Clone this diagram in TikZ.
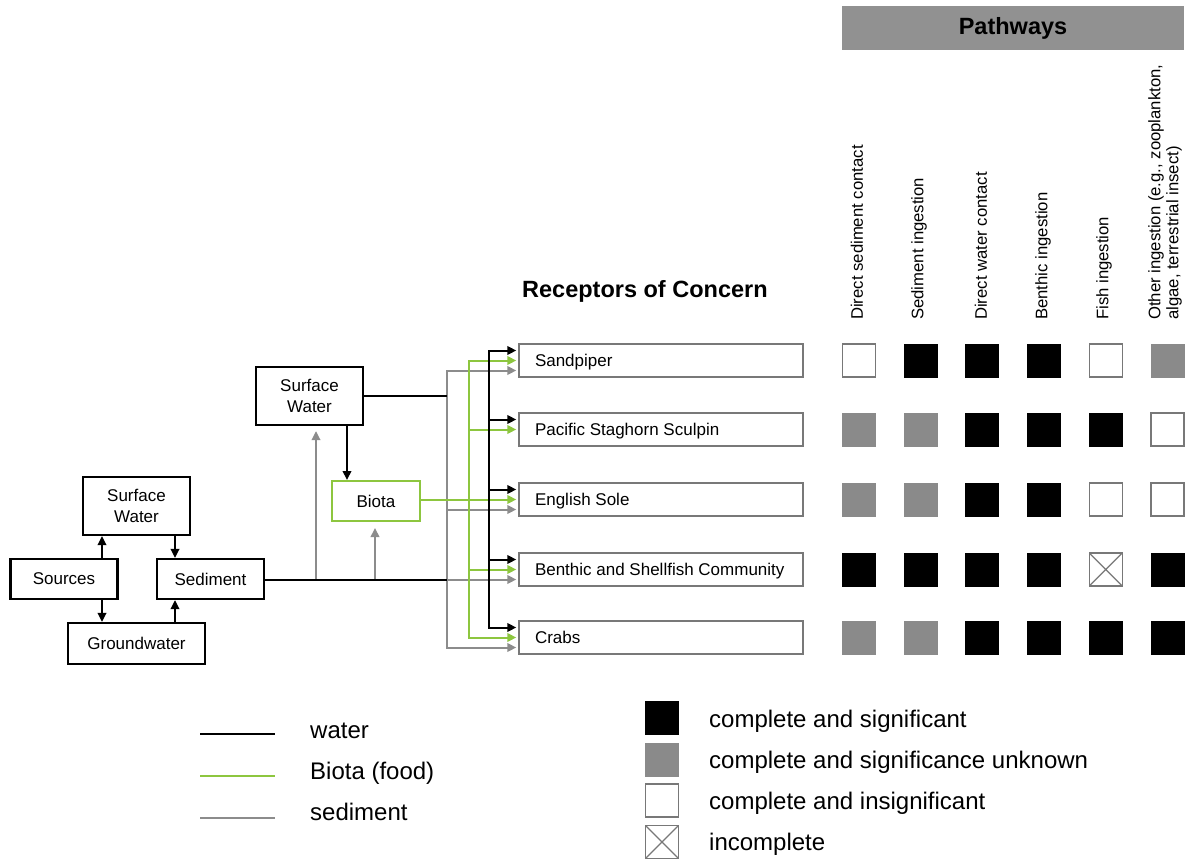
\documentclass[tikz,border=0pt]{standalone}
\usepackage{fontspec}
\setmainfont{Liberation Sans}
\usetikzlibrary{arrows.meta,calc}
\definecolor{food}{RGB}{141,198,63}
\definecolor{sedgray}{RGB}{140,140,140}
\definecolor{boxgray}{RGB}{120,120,120}
\definecolor{hdrgray}{RGB}{145,145,145}
\definecolor{sqgray}{RGB}{138,138,138}
\newcommand{\rlab}[1]{\makebox[252pt][l]{#1}}
\begin{document}
\begin{tikzpicture}[x=1pt,y=-1pt,
  fs/.style={font=\fontsize{17}{21}\selectfont},
  netbox/.style={draw=black, line width=2.2pt, align=center, inner sep=0pt, fs},
  rbox/.style={draw=boxgray, line width=1.4pt, minimum width=284pt, minimum height=33pt, text height=12.5pt, text depth=0pt, inner xsep=16pt, inner ysep=0pt, fs},
  wline/.style={draw=black, line width=2pt},
  fline/.style={draw=food, line width=2pt},
  sline/.style={draw=sedgray, line width=2pt},
  arr/.style={-{Triangle[length=9pt,width=8.5pt]}},
  barr/.style={{Triangle[length=9pt,width=8.5pt]}-{Triangle[length=9pt,width=8.5pt]}},
  sq/.style={minimum width=33pt, minimum height=33pt, inner sep=0pt},
  sqB/.style={fill=black, draw=black, line width=1pt},
  sqG/.style={fill=sqgray, draw=sqgray, line width=1pt},
  sqW/.style={fill=white, draw=boxgray, line width=1.4pt},
  sqX/.style={fill=white, draw=boxgray, line width=1.4pt,
    path picture={\draw[boxgray, line width=1.2pt]
      (path picture bounding box.north west) -- (path picture bounding box.south east)
      (path picture bounding box.north east) -- (path picture bounding box.south west);}},
  collab/.style={rotate=90, anchor=west, inner sep=0pt, align=left, font=\fontsize{16.7}{18}\selectfont},
  legtext/.style={anchor=base west, inner sep=0pt, font=\fontsize{24}{28}\selectfont}
]
\useasboundingbox (0,0) rectangle (1192,861);

% header
\node[fill=hdrgray, minimum width=342pt, minimum height=44pt, inner sep=0pt,
  font=\bfseries\fontsize{23.5}{28}\selectfont] (pw) at (1013,28) {Pathways};
\node[anchor=base west, inner sep=0pt, font=\bfseries\fontsize{23.5}{28}\selectfont] (roc) at (522,298) {Receptors of Concern};

% column labels
\node[collab] (p1) at (857,320) {Direct sediment contact};
\node[collab] (p2) at (919,320) {Sediment ingestion};
\node[collab] (p3) at (981,320) {Direct water contact};
\node[collab] (p4) at (1043,320) {Benthic ingestion};
\node[collab] (p5) at (1104,320) {Fish ingestion};
\node[collab] (p6) at (1165,320) {Other ingestion (e.g., zooplankton,\\algae, terrestrial insect)};

% receptors
\node[rbox] (r1) at (661,360.5) {\rlab{Sandpiper}};
\node[rbox] (r2) at (661,429.5) {\rlab{Pacific Staghorn Sculpin}};
\node[rbox] (r3) at (661,499.5) {\rlab{English Sole}};
\node[rbox] (r4) at (661,569.5) {\rlab{Benthic and Shellfish Community}};
\node[rbox] (r5) at (661,637.5) {\rlab{Crabs}};

% squares
\foreach \row/\yy/\types in {1/360.5/{W,B,B,B,W,G}, 2/429.5/{G,G,B,B,B,W}, 3/499.5/{G,G,B,B,W,W}, 4/569.5/{B,B,B,B,X,B}, 5/637.5/{G,G,B,B,B,B}} {
  \foreach \t [count=\c] in \types {
    \pgfmathsetmacro\xx{797.3+61.7*\c}
    \node[sq, sq\t] (s\row\c) at (\xx,\yy) {};
  }
}

% left network
\node[netbox, minimum width=107pt, minimum height=40pt] (sr) at (64,579) {Sources};
\node[netbox, minimum width=107pt, minimum height=58pt] (sw1) at (136.5,506) {Surface\\Water};
\node[netbox, minimum width=107pt, minimum height=40pt] (sed) at (210.5,579) {Sediment};
\node[netbox, minimum width=137pt, minimum height=41pt] (gw) at (136.5,643.5) {Groundwater};
\node[netbox, minimum width=107pt, minimum height=58pt] (sw2) at (309.5,396) {Surface\\Water};
\node[netbox, draw=food, line width=2pt, minimum width=88pt, minimum height=40pt] (bio) at (376,501) {Biota};

\coordinate (c102) at (102,0);
\coordinate (c175) at (175,0);
\coordinate (c316) at (316,0);
\coordinate (c347) at (347,0);
\coordinate (c375) at (375,0);
\coordinate (sx) at (447,0);
\coordinate (gx) at (469,0);
\coordinate (bx) at (489,0);

\draw[wline,arr] (sr.north -| c102) -- (sw1.south -| c102);
\draw[wline,arr] (sr.south -| c102) -- (gw.north -| c102);
\draw[wline,arr] (sw1.south -| c175) -- (sed.north -| c175);
\draw[wline,arr] (gw.north -| c175) -- (sed.south -| c175);

\foreach \i in {1,...,5} {
  \path (r\i.west) ++(0,-10) coordinate (kb\i);
  \path (r\i.west) coordinate (kg\i);
  \path (r\i.west) ++(0,10) coordinate (ks\i);
}

% sediment (gray)
\draw[sline,arr,shorten >=5pt] (ks4 -| c316) -- (sw2.south -| c316);
\draw[sline,arr,shorten >=6pt] (ks4 -| c375) -- (bio.south -| c375);
\draw[sline,barr,shorten <=2pt,shorten >=2pt] (ks1) -- (ks1 -| sx) -- (ks5 -| sx) -- (ks5);
\foreach \i in {3,4} \draw[sline,arr,shorten >=2pt] (ks\i -| sx) -- (ks\i);
\draw[wline] (sed.east |- ks4) -- (ks4 -| sx);
\draw[wline] (sw2.east) -- (sw2.east -| sx);

% biota (food)
\draw[fline,barr,shorten <=2pt,shorten >=2pt] (kg1) -- (kg1 -| gx) -- (kg5 -| gx) -- (kg5);
\foreach \i in {2,4} \draw[fline,arr,shorten >=2pt] (kg\i -| gx) -- (kg\i);
\draw[fline,arr,shorten >=2pt] (bio.east |- kg3) -- (kg3);

% water (black)
\draw[wline,arr] (sw2.south -| c347) -- (bio.north -| c347);
\draw[wline,barr,shorten <=2pt,shorten >=2pt] (kb1) -- (kb1 -| bx) -- (kb5 -| bx) -- (kb5);
\foreach \i in {2,3,4} \draw[wline,arr,shorten >=2pt] (kb\i -| bx) -- (kb\i);

% legend lines
\node[legtext] (lt1) at (310,738) {water};
\node[legtext] (lt2) at (310,779) {Biota (food)};
\node[legtext] (lt3) at (310,820) {sediment};
\draw[wline, line width=2.5pt] (200,734) -- (275,734);
\draw[fline, line width=2.5pt] (200,776) -- (275,776);
\draw[sline, line width=2.5pt] (200,818) -- (275,818);

% legend squares
\node[sq, sqB] (l1) at (662,717.5) {};
\node[sq, sqG] (l2) at (662,759.5) {};
\node[sq, sqW] (l3) at (662,800.5) {};
\node[sq, sqX] (l4) at (662,842) {};
\node[legtext] (lq1) at (709,727) {complete and significant};
\node[legtext] (lq2) at (709,768) {complete and significance unknown};
\node[legtext] (lq3) at (709,809) {complete and insignificant};
\node[legtext] (lq4) at (709,850) {incomplete};
\end{tikzpicture}
\end{document}
